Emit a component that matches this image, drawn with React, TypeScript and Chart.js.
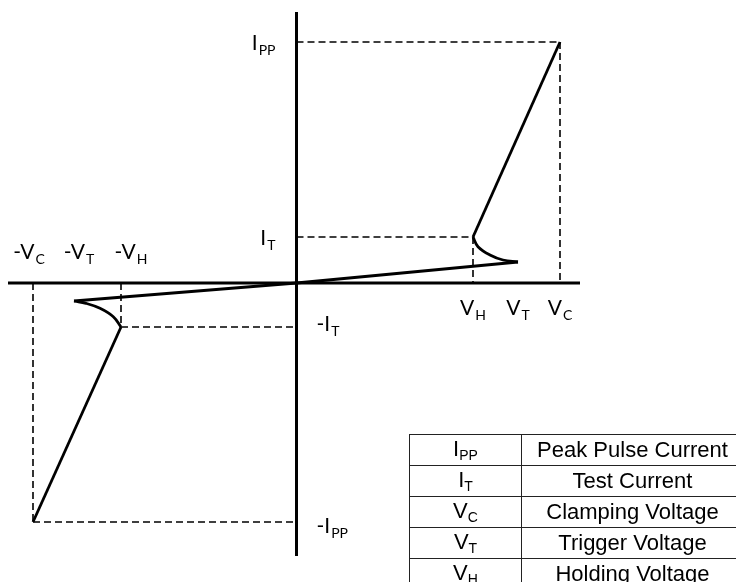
import React, { useEffect, useRef } from "react";
import { Chart, registerables } from "chart.js";

Chart.register(...registerables);

// ---- Data (abstract voltage / current units) ----
// forward (first quadrant) branch
const fwdLeakX = [0, 22.15];
const fwdLeakY = [0, 2.1];
const fwdSnapX = [22.15, 20.65, 19.35, 18.15, 17.65];
const fwdSnapY = [2.1, 2.3, 2.8, 3.63, 4.6];
const fwdClampX = [17.65, 26.35];
const fwdClampY = [4.6, 24.1];
// reverse (third quadrant) branch
const revLeakX = [0, -22.25];
const revLeakY = [0, -1.8];
const revSnapX = [-22.25, -21.05, -19.65, -18.32, -17.55];
const revSnapY = [-1.8, -2.03, -2.53, -3.37, -4.4];
const revClampX = [-17.55, -26.35];
const revClampY = [-4.4, -23.9];

// reference levels
const fwdVoltages = [17.65, 22.15, 26.35]; // V_H, V_T, V_C
const fwdVoltageSubs = ["H", "T", "C"];
const revVoltages = [-26.35, -22.25, -17.55]; // -V_C, -V_T, -V_H
const revVoltageSubs = ["C", "T", "H"];
const fwdCurrents = [4.6, 24.1]; // I_T, I_PP
const fwdCurrentSubs = ["T", "PP"];
const revCurrents = [-4.4, -23.9]; // -I_T, -I_PP
const revCurrentSubs = ["T", "PP"];

// axis extents
const xAxisSpan = [-28.85, 28.35];
const yAxisSpan = [-27.3, 27.1];

// table
const tableSymbols = ["I", "I", "V", "V", "V"];
const tableSubs = ["PP", "T", "C", "T", "H"];
const tableDescriptions = [
  "Peak Pulse Current",
  "Test Current",
  "Clamping Voltage",
  "Trigger Voltage",
  "Holding Voltage",
];

const pts = (xs: number[], ys: number[]) => xs.map((x, i) => ({ x, y: ys[i] }));

const solid = (data: any[], width = 3, tension = 0) => ({
  data,
  borderColor: "#000",
  borderWidth: width,
  pointRadius: 0,
  showLine: true,
  tension,
  fill: false,
});

const dashed = (data: any[]) => ({
  data,
  borderColor: "#000",
  borderWidth: 1.6,
  borderDash: [7, 4],
  pointRadius: 0,
  showLine: true,
  fill: false,
});

const MAIN_FONT = "21px Lato";
const SUB_FONT = "14px Lato";

const labelPlugin = {
  id: "ivLabels",
  afterDatasetsDraw(chart: any) {
    const { ctx, scales } = chart;
    const xs = scales.x;
    const ys = scales.y;
    const draw = (
      prefix: string,
      sub: string,
      px: number,
      baseline: number,
      align: "center" | "left" | "right"
    ) => {
      ctx.save();
      ctx.fillStyle = "#000";
      ctx.textBaseline = "alphabetic";
      ctx.textAlign = "left";
      ctx.font = MAIN_FONT;
      const wm = ctx.measureText(prefix).width;
      ctx.font = SUB_FONT;
      const ws = ctx.measureText(sub).width;
      const total = wm + ws + 1;
      let left = px;
      if (align === "center") left = px - total / 2;
      if (align === "right") left = px - total;
      ctx.font = MAIN_FONT;
      ctx.fillText(prefix, left, baseline);
      ctx.font = SUB_FONT;
      ctx.fillText(sub, left + wm + 1, baseline + 5);
      ctx.restore();
    };
    const x0 = xs.getPixelForValue(0);
    const y0 = ys.getPixelForValue(0);
    fwdVoltages.forEach((v, i) =>
      draw("V", fwdVoltageSubs[i], xs.getPixelForValue(v), y0 + 32, "center")
    );
    const revShift = [-4, 5, 10];
    revVoltages.forEach((v, i) =>
      draw("-V", revVoltageSubs[i], xs.getPixelForValue(v) + revShift[i], y0 - 24, "center")
    );
    fwdCurrents.forEach((c, i) =>
      draw("I", fwdCurrentSubs[i], x0 - 21, ys.getPixelForValue(c) + 8, "right")
    );
    const revOff = [4, 11];
    revCurrents.forEach((c, i) =>
      draw("-I", revCurrentSubs[i], x0 + 20, ys.getPixelForValue(c) + revOff[i], "left")
    );
  },
};

export default function App() {
  const canvasRef = useRef<HTMLCanvasElement | null>(null);

  useEffect(() => {
    const canvas = canvasRef.current;
    if (!canvas) return;
    const datasets: any[] = [
      // axes
      solid(pts(xAxisSpan, [0, 0]), 3),
      solid(pts([0, 0], yAxisSpan), 3),
      // forward reference lines
      dashed(pts([0, fwdVoltages[2]], [fwdCurrents[1], fwdCurrents[1]])),
      dashed(pts([fwdVoltages[2], fwdVoltages[2]], [fwdCurrents[1], 0])),
      dashed(pts([0, fwdVoltages[0]], [fwdCurrents[0], fwdCurrents[0]])),
      dashed(pts([fwdVoltages[0], fwdVoltages[0]], [fwdCurrents[0], 0])),
      // reverse reference lines
      dashed(pts([revVoltages[0], revVoltages[0]], [0, revCurrents[1]])),
      dashed(pts([revVoltages[0], 0], [revCurrents[1], revCurrents[1]])),
      dashed(pts([revVoltages[2], revVoltages[2]], [0, revCurrents[0]])),
      dashed(pts([revVoltages[2], 0], [revCurrents[0], revCurrents[0]])),
      // curve
      solid(pts(fwdLeakX, fwdLeakY), 2.8),
      solid(pts(fwdSnapX, fwdSnapY), 2.8, 0.4),
      solid(pts(fwdClampX, fwdClampY), 2.8),
      solid(pts(revLeakX, revLeakY), 2.8),
      solid(pts(revSnapX, revSnapY), 2.8, 0.4),
      solid(pts(revClampX, revClampY), 2.8),
    ];
    const chart = new Chart(canvas, {
      type: "scatter",
      data: { datasets },
      options: {
        animation: false,
        responsive: false,
        maintainAspectRatio: false,
        layout: { padding: 0 },
        plugins: { legend: { display: false }, tooltip: { enabled: false } },
        scales: {
          x: { type: "linear", min: -29.65, max: 43.95, display: false },
          y: { type: "linear", min: -29.9, max: 28.3, display: false },
        },
      },
      plugins: [labelPlugin],
    });
    return () => chart.destroy();
  }, []);

  return (
    <div
      style={{
        position: "fixed",
        left: 0,
        top: 0,
        width: 736,
        height: 582,
        background: "#fff",
        overflow: "hidden",
      }}
    >
      <canvas
        ref={canvasRef}
        width={736}
        height={582}
        style={{ position: "absolute", left: 0, top: 0, width: 736, height: 582 }}
      />
      <table
        style={{
          position: "absolute",
          left: 409,
          top: 434,
          width: 335,
          borderCollapse: "collapse",
          fontFamily: '"Liberation Sans", Arial, sans-serif',
          fontSize: 22,
          color: "#000",
          tableLayout: "fixed",
        }}
      >
        <tbody>
          {tableDescriptions.map((d, i) => (
            <tr key={i} style={{ height: 30.4 }}>
              <td
                style={{
                  border: "1px solid #222",
                  width: 111,
                  textAlign: "center",
                  padding: 0,
                  lineHeight: "28px",
                }}
              >
                {tableSymbols[i]}
                <span style={{ fontSize: 14, position: "relative", top: 4 }}>{tableSubs[i]}</span>
              </td>
              <td
                style={{
                  border: "1px solid #222",
                  textAlign: "center",
                  padding: 0,
                  lineHeight: "28px",
                }}
              >
                {d}
              </td>
            </tr>
          ))}
        </tbody>
      </table>
    </div>
  );
}
